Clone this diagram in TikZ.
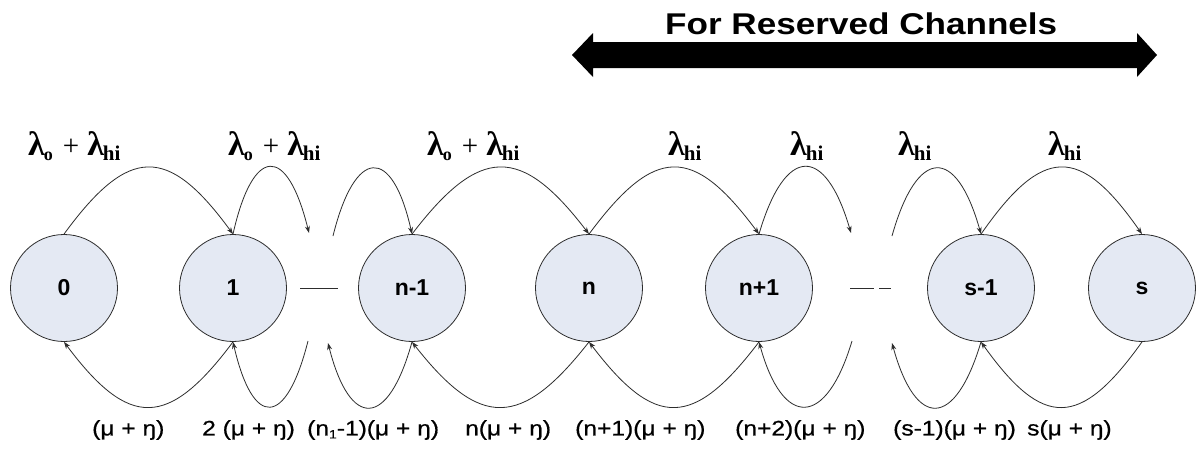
\documentclass[tikz,border=0pt]{standalone}
\usepackage{fontspec}
\setmainfont{Liberation Serif}
\newfontfamily\arialb{Liberation Sans}
\newfontfamily\arialwide[FakeStretch=1.17,FakeBold=0.6]{Liberation Sans}
\newfontfamily\arialtitle[FakeStretch=1.17]{Liberation Sans}
\usetikzlibrary{arrows.meta}
\definecolor{stfill}{RGB}{228,233,243}
\definecolor{ln}{RGB}{45,45,45}
\newcommand\lamlab[2]{{\fontsize{34}{34}\selectfont\bfseries λ}\kern-1pt\raisebox{-5pt}{\fontsize{#2}{#2}\selectfont\bfseries #1}}
\newcommand\lamplus{\lamlab{o}{18}\hspace{10pt}{\fontsize{29}{29}\selectfont +}\hspace{8pt}\lamlab{hi}{21}}
\newcommand\mueta{(μ + ŋ)}
\begin{document}
\begin{tikzpicture}[x=1pt,y=-1pt,
  state/.style={circle, draw=ln, line width=0.8pt, fill=stfill, minimum size=107pt, inner sep=0pt,
    font=\arialb\bfseries\fontsize{23}{23}\selectfont},
  arr/.style={draw=ln, line width=0.8pt, -{Stealth[length=7pt,width=5pt]}},
  toplab/.style={anchor=base west, inner sep=0pt},
  botlab/.style={anchor=west, inner sep=0pt, font=\arialwide\fontsize{21}{21}\selectfont},
  dashmark/.style={draw=ln, line width=1pt}]
\useasboundingbox (0,0) rectangle (1203,451);
\fill[white] (0,0) rectangle (1203,451);

% reserved channels double arrow
\fill[black] (572,55) -- (593,33) -- (593,42) -- (1137,42) -- (1137,33) -- (1157,55)
  -- (1137,77) -- (1137,68) -- (593,68) -- (593,77) -- cycle;
\node[anchor=base west, inner sep=0pt, font=\arialtitle\bfseries\fontsize{30}{30}\selectfont] (title) at (665,34) {For Reserved Channels};

% states
\node[state] (c0)  at (64,288)   {0};
\node[state] (c1)  at (233,288)  {1};
\node[state] (cn1) at (412,288)  {n-1};
\node[state] (cn)  at (589,288)  {n};
\node[state] (cnp) at (759,288)  {n+1};
\node[state] (cs1) at (981,288)  {s-1};
\node[state] (cs)  at (1142,288) {s};

% ellipsis marks
\coordinate (d1a) at (300,288); \coordinate (d1b) at (338,288);
\coordinate (d2a) at (850,288); \coordinate (d2b) at (874,288);
\coordinate (d2c) at (879,288); \coordinate (d2d) at (891,288);
\draw[dashmark] (d1a) -- (d1b);
\draw[dashmark] (d2a) -- (d2b);
\draw[dashmark] (d2c) -- (d2d);

% free ends
\coordinate (fa1) at (309,233); \coordinate (fa2) at (333,236);
\coordinate (fb1) at (851,233); \coordinate (fb2) at (892,236);
\coordinate (ga1) at (308,341); \coordinate (ga2) at (328,343);
\coordinate (gb1) at (852,341); \coordinate (gb2) at (892,343);

% top arcs (arrivals)
\draw[arr] (c0.north)  .. controls +(65,-89) and +(-65,-89) .. (c1.north);
\draw[arr] (c1.north)  .. controls +(20,-89) and +(-22,-89) .. (fa1);
\draw[arr] (fa2)       .. controls +(22,-89) and +(-20,-89) .. (cn1.north);
\draw[arr] (cn1.north) .. controls +(68,-89) and +(-68,-89) .. (cn.north);
\draw[arr] (cn.north)  .. controls +(66,-89) and +(-66,-89) .. (cnp.north);
\draw[arr] (cnp.north) .. controls +(26,-89) and +(-26,-89) .. (fb1);
\draw[arr] (fb2)       .. controls +(25,-89) and +(-25,-89) .. (cs1.north);
\draw[arr] (cs1.north) .. controls +(62,-89) and +(-62,-89) .. (cs.north);

% bottom arcs (departures)
\draw[arr] (c1.south)  .. controls +(-65,87) and +(65,87) .. (c0.south);
\draw[arr] (ga1)       .. controls +(-22,87) and +(20,87) .. (c1.south);
\draw[arr] (cn1.south) .. controls +(-24,87) and +(22,87) .. (ga2);
\draw[arr] (cn.south)  .. controls +(-68,87) and +(68,87) .. (cn1.south);
\draw[arr] (cnp.south) .. controls +(-66,87) and +(66,87) .. (cn.south);
\draw[arr] (gb1)       .. controls +(-26,87) and +(24,87) .. (cnp.south);
\draw[arr] (cs1.south) .. controls +(-26,87) and +(24,87) .. (gb2);
\draw[arr] (cs.south)  .. controls +(-62,87) and +(62,87) .. (cs1.south);

% top labels
\node[toplab] (t1) at (28,155)  {\lamplus};
\node[toplab] (t2) at (228,155) {\lamplus};
\node[toplab] (t3) at (427,155) {\lamplus};
\node[toplab] (t4) at (668,155) {\lamlab{hi}{21}};
\node[toplab] (t5) at (790,155) {\lamlab{hi}{21}};
\node[toplab] (t6) at (898,155) {\lamlab{hi}{21}};
\node[toplab] (t7) at (1048,155) {\lamlab{hi}{21}};

% bottom labels
\node[botlab] (b1) at (92,430)   {\mueta};
\node[botlab] (b2) at (202,430)  {2 \mueta};
\node[botlab] (b3) at (307,430)  {(n\raisebox{-3pt}{\fontsize{12}{12}\selectfont 1}-1)\mueta};
\node[botlab] (b4) at (465,430)  {n\mueta};
\node[botlab] (b5) at (575,430)  {(n+1)\mueta};
\node[botlab] (b6) at (735,430)  {(n+2)\mueta};
\node[botlab] (b7) at (893,430)  {(s-1)\mueta};
\node[botlab] (b8) at (1027,430) {s\mueta};
\end{tikzpicture}
\end{document}
